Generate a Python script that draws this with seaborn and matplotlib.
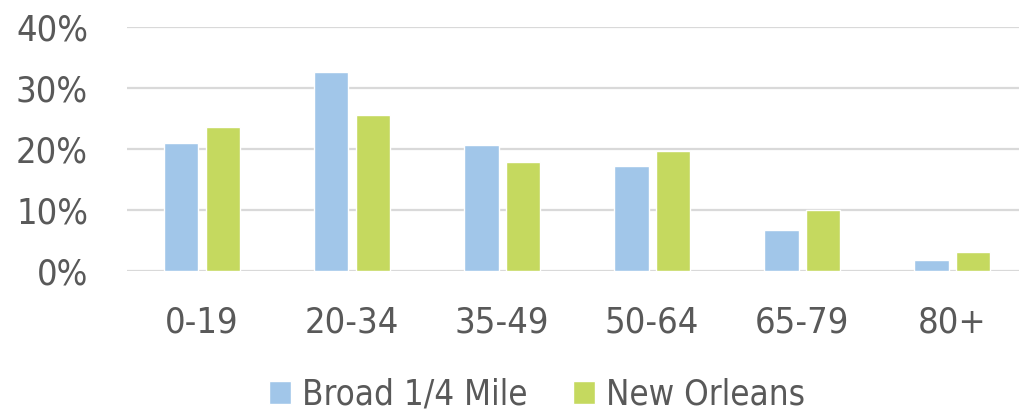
import matplotlib
matplotlib.use("Agg")
import matplotlib.pyplot as plt
import seaborn as sns
import pandas as pd
from matplotlib.ticker import PercentFormatter

# --- data ---
age_groups = ['0-19', '20-34', '35-49', '50-64', '65-79', '80+']
broad_quarter_mile = [0.209, 0.326, 0.206, 0.172, 0.067, 0.0175]
new_orleans = [0.236, 0.255, 0.179, 0.197, 0.100, 0.030]
series_names = ['Broad 1/4 Mile', 'New Orleans']

df = pd.DataFrame({
    'Age': age_groups * 2,
    'Share': broad_quarter_mile + new_orleans,
    'Area': [series_names[0]] * len(age_groups) + [series_names[1]] * len(age_groups),
})

sns.set_style('white')
plt.rcParams['font.family'] = ['Liberation Sans Narrow', 'DejaVu Sans']
plt.rcParams['font.stretch'] = 'condensed'
text_color = '#595959'

fig = plt.figure(figsize=(10.2, 4.13), dpi=100)
ax = fig.add_axes([0.1245, 0.3446, 0.8824, 0.59])

sns.barplot(data=df, x='Age', y='Share', hue='Area', order=age_groups,
            hue_order=series_names, palette=['#A1C6E9', '#C5D95F'],
            saturation=1, width=0.55, gap=0.17, edgecolor='white', linewidth=1,
            ax=ax, legend=True)

ax.set_ylim(0, 0.4)
ax.set_xlim(-0.5, len(age_groups) - 0.5)
ax.set_yticks([0, 0.1, 0.2, 0.3, 0.4])
ax.yaxis.set_major_formatter(PercentFormatter(1.0, decimals=0))
ax.yaxis.grid(True, color='#D9D9D9', linewidth=1.6)
ax.set_axisbelow(True)
for s in ax.spines.values():
    s.set_visible(False)
ax.set_xlabel('')
ax.set_ylabel('')
ax.tick_params(axis='y', length=0, pad=28, labelsize=26, labelcolor=text_color)
ax.tick_params(axis='x', length=0, pad=25, labelsize=26, labelcolor=text_color)

ax.legend(loc='center', bbox_to_anchor=(0.5265, 0.044), bbox_transform=fig.transFigure,
          ncol=2, frameon=False, fontsize=25, labelcolor=text_color,
          handlelength=0.63, handleheight=0.63, handletextpad=0.32, columnspacing=1.3)

fig.savefig('out.png', dpi=100)
